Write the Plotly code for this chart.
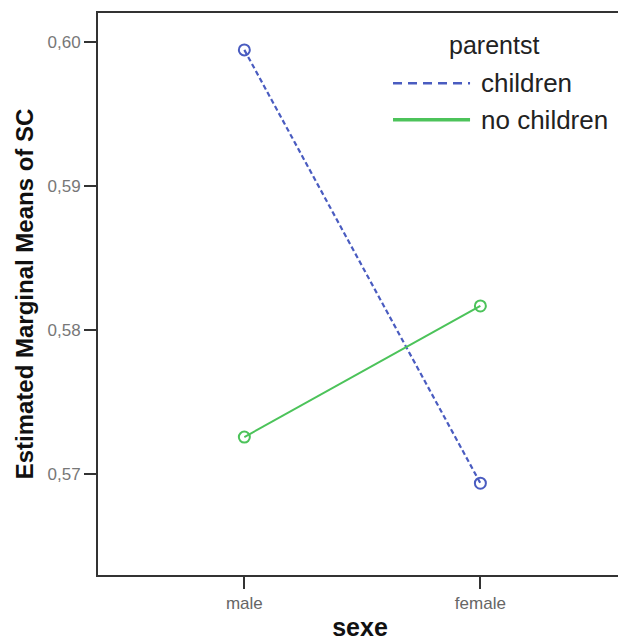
import plotly.graph_objects as go

sexe = ["male", "female"]
children = [0.59944, 0.56937]
no_children = [0.57257, 0.58167]
y_ticks = [0.57, 0.58, 0.59, 0.60]
y_tick_labels = ["0,57", "0,58", "0,59", "0,60"]
series_names = ["children", "no children"]
legend_title = "parentst"

blue = "#4a5cc0"
green = "#4cc35a"
FONT = "Liberation Sans, Arial, sans-serif"

fig = go.Figure()
fig.add_trace(go.Scatter(
    x=[0, 1], y=children, mode="lines+markers", name=series_names[0],
    line=dict(color=blue, width=2.2, dash="5px,3px"),
    marker=dict(symbol="circle-open", size=11, color=blue, line=dict(width=2)),
    showlegend=False))
fig.add_trace(go.Scatter(
    x=[0, 1], y=no_children, mode="lines+markers", name=series_names[1],
    line=dict(color=green, width=2),
    marker=dict(symbol="circle-open", size=11, color=green, line=dict(width=2)),
    showlegend=False))

# manual legend
fig.add_annotation(x=0.756, y=0.943, xref="paper", yref="paper", text=legend_title,
                   showarrow=False, font=dict(size=25, color="#222"), xanchor="center", yanchor="middle")
fig.add_shape(type="line", xref="paper", yref="paper", x0=0.563, x1=0.710, y0=0.875, y1=0.875,
              line=dict(color=blue, width=2.5, dash="9px,6px"))
fig.add_annotation(x=0.727, y=0.875, xref="paper", yref="paper", text=series_names[0],
                   showarrow=False, font=dict(size=26, color="#222"), xanchor="left", yanchor="middle")
fig.add_shape(type="line", xref="paper", yref="paper", x0=0.563, x1=0.710, y0=0.810, y1=0.810,
              line=dict(color=green, width=3.5))
fig.add_annotation(x=0.727, y=0.810, xref="paper", yref="paper", text=series_names[1],
                   showarrow=False, font=dict(size=26, color="#222"), xanchor="left", yanchor="middle")

fig.update_layout(
    width=618, height=633,
    margin=dict(l=90, r=4, t=5, b=66),
    plot_bgcolor="white", paper_bgcolor="white",
    font=dict(family=FONT),
    xaxis=dict(
        tickmode="array", tickvals=[0, 1], ticktext=sexe, range=[-0.62, 1.60],
        showgrid=False, zeroline=False, showline=True, linecolor="#333", linewidth=2,
        mirror=True, ticks="outside", ticklen=12, tickwidth=2, tickcolor="#333",
        tickfont=dict(size=17, color="#666"), automargin=False,
        title=dict(text="<b>sexe</b>", font=dict(size=25, color="#111"), standoff=9)),
    yaxis=dict(
        tickmode="array", tickvals=y_ticks, ticktext=y_tick_labels, range=[0.5630, 0.6020],
        showgrid=False, zeroline=False, showline=True, linecolor="#333", linewidth=2,
        mirror=True, ticks="outside", ticklen=12, tickwidth=2, tickcolor="#333",
        tickfont=dict(size=17, color="#777"), automargin=False,
        title=dict(text="<b>Estimated Marginal Means of SC</b>", font=dict(size=24, color="#111"), standoff=7)),
)

fig.write_html("out.html")
